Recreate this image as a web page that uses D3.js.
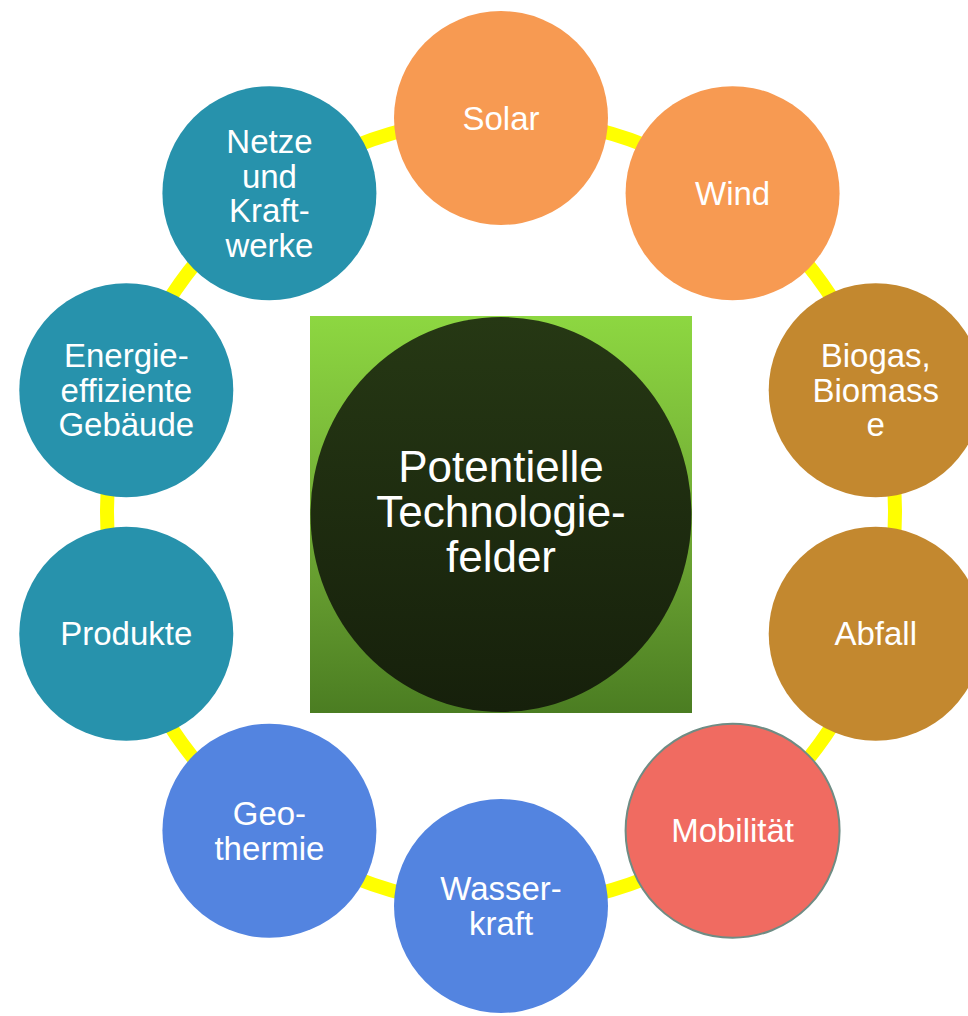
<!DOCTYPE html>
<html>
<head>
<meta charset="utf-8">
<script src="https://cdn.jsdelivr.net/npm/d3@7"></script>
<style>
  html, body { margin: 0; padding: 0; background: #ffffff; }
  svg { display: block; }
</style>
</head>
<body>
<svg id="chart" width="968" height="1016"></svg>
<script>
// Fields arranged clockwise starting at the top
const fields = [
  ["Solar"],
  ["Wind"],
  ["Biogas,", "Biomass", "e"],
  ["Abfall"],
  ["Mobilität"],
  ["Wasser-", "kraft"],
  ["Geo-", "thermie"],
  ["Produkte"],
  ["Energie-", "effiziente", "Gebäude"],
  ["Netze", "und", "Kraft-", "werke"]
];
const fieldGroups = ["energy", "energy", "bio", "bio", "mobility", "water", "water", "building", "building", "building"];
const groupNames = ["energy", "bio", "mobility", "water", "building"];
const groupColors = ["#F79A52", "#C3882F", "#F06B61", "#5384E0", "#2792AC"];
const centerTitle = ["Potentielle", "Technologie-", "felder"];

const svg = d3.select("#chart");
const W = 968, H = 1016;
const cx = 501, cy = 512;
const ringR = 394;
const nodeR = 107;

const color = d3.scaleOrdinal().domain(groupNames).range(groupColors);
const angle = d3.scaleLinear().domain([0, fields.length]).range([-Math.PI / 2, 1.5 * Math.PI]);

const defs = svg.append("defs");
const sq = defs.append("linearGradient").attr("id", "squareGrad")
  .attr("x1", 0).attr("y1", 0).attr("x2", 0).attr("y2", 1);
sq.append("stop").attr("offset", "0%").attr("stop-color", "#8DD741");
sq.append("stop").attr("offset", "55%").attr("stop-color", "#6FA834");
sq.append("stop").attr("offset", "100%").attr("stop-color", "#4B7D22");
const dk = defs.append("linearGradient").attr("id", "coreGrad")
  .attr("x1", 0).attr("y1", 0).attr("x2", 0).attr("y2", 1);
dk.append("stop").attr("offset", "0%").attr("stop-color", "#263814");
dk.append("stop").attr("offset", "100%").attr("stop-color", "#16200B");

// yellow connecting ring
svg.append("circle")
  .attr("cx", cx).attr("cy", cy).attr("r", ringR)
  .attr("fill", "none")
  .attr("stroke", "#FFFF00")
  .attr("stroke-width", 14);

// central square with inscribed dark ellipse
const sqX = 310, sqY = 316, sqW = 382, sqH = 397;
svg.append("rect")
  .attr("x", sqX).attr("y", sqY).attr("width", sqW).attr("height", sqH)
  .attr("fill", "url(#squareGrad)");
svg.append("ellipse")
  .attr("cx", sqX + sqW / 2).attr("cy", sqY + sqH / 2)
  .attr("rx", sqW / 2 - 0.5).attr("ry", sqH / 2 - 1)
  .attr("fill", "url(#coreGrad)");

const titleLH = 45;
svg.append("text")
  .attr("text-anchor", "middle")
  .attr("font-family", "'Liberation Sans', Arial, sans-serif")
  .attr("font-size", 44)
  .attr("fill", "#ffffff")
  .selectAll("tspan")
  .data(centerTitle)
  .join("tspan")
  .attr("x", sqX + sqW / 2)
  .attr("y", (d, i) => cy + (i - (centerTitle.length - 1) / 2) * titleLH)
  .attr("dy", "0.35em")
  .text(d => d);

// outer nodes
const nodes = svg.append("g").selectAll("g")
  .data(fields)
  .join("g")
  .attr("transform", (d, i) => {
    const a = angle(i);
    return `translate(${cx + ringR * Math.cos(a)},${cy + ringR * Math.sin(a)})`;
  });

nodes.append("circle")
  .attr("r", nodeR)
  .attr("fill", (d, i) => color(fieldGroups[i]))
  .attr("stroke", (d, i) => fieldGroups[i] === "mobility" ? "#6F8C84" : "none")
  .attr("stroke-width", 2);

const lh = 34.5;
nodes.append("text")
  .attr("text-anchor", "middle")
  .attr("font-family", "'Liberation Sans', Arial, sans-serif")
  .attr("font-size", 33)
  .attr("fill", "#ffffff")
  .selectAll("tspan")
  .data(d => d.map((t, j) => ({ t, j, n: d.length })))
  .join("tspan")
  .attr("x", 0)
  .attr("y", d => (d.j - (d.n - 1) / 2) * lh)
  .attr("dy", "0.35em")
  .text(d => d.t);
</script>
</body>
</html>
